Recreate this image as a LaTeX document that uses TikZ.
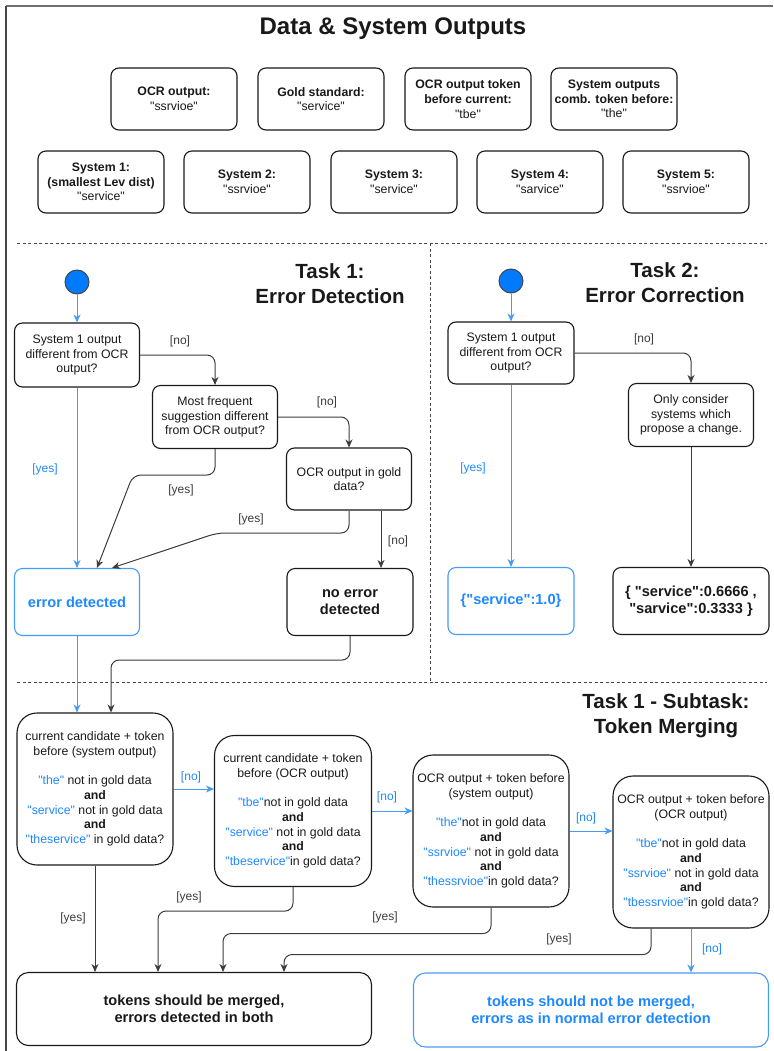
\documentclass[tikz,border=0pt]{standalone}
\usepackage{fontspec}
\setmainfont{Liberation Sans}[Ligatures=TeXOff]
\setsansfont{Liberation Sans}[Ligatures=TeXOff]
\usetikzlibrary{arrows.meta}
\definecolor{myblue}{RGB}{30,136,255}
\definecolor{bline}{RGB}{70,155,245}
\definecolor{ink}{RGB}{25,25,25}
\definecolor{startfill}{RGB}{0,122,255}
\definecolor{frame}{RGB}{110,110,110}
\newcommand{\fsz}[2]{\fontsize{#1}{#2}\selectfont}
\newcommand{\Bq}[1]{\textcolor{myblue}{#1}}
\begin{document}
\begin{tikzpicture}[x=1pt,y=-1pt,
  box/.style={draw=ink, line width=1.1pt, rounded corners=8pt, align=center, text=ink,
    font=\fsz{12.3}{14.7}, inner sep=0pt},
  dbox/.style={box, minimum width=126pt, minimum height=62pt},
  bigbox/.style={box, rounded corners=20pt, minimum width=156pt, minimum height=152pt},
  bluebox/.style={box, draw=bline, text=myblue},
  endtxt/.style={font=\fsz{14.6}{17}\bfseries},
  startdot/.style={circle, draw=ink!80, fill=startfill, line width=1pt, minimum size=24pt, inner sep=0pt},
  arrow/.style={draw=ink!85, line width=1pt, rounded corners=8pt, -{Stealth[length=8pt,width=7pt,inset=2.5pt]}},
  barrow/.style={arrow, draw=bline, fill=none},
  lbl/.style={font=\fsz{12}{14}, text=ink!85, inner sep=1pt},
  blbl/.style={lbl, text=myblue},
  sep/.style={draw=ink!80, line width=0.9pt, dash pattern=on 3pt off 2.5pt},
  ttl/.style={font=\fsz{20.5}{25}\bfseries, align=center, text=ink}
]
\useasboundingbox (0,0) rectangle (773,1051);
% frame
\draw[frame, line width=2pt] (773,6) -- (6,6);
\draw[ink!80, line width=1.3pt] (6,6) -- (6,1051);

% title and data boxes
\node[font=\fsz{24}{28}\bfseries, text=ink] (title) at (393,29) {Data \& System Outputs};
\node[dbox] (ocr) at (174,99) {\textbf{OCR output:}\\"ssrvioe"};
\node[dbox] (gold) at (321,99) {\textbf{Gold standard:}\\"service"};
\node[dbox] (ocrtok) at (468,99) {\textbf{OCR output token}\\\textbf{before current:}\\"tbe"};
\node[dbox] (systok) at (614,99) {\textbf{System outputs}\\\textbf{comb. token before:}\\"the"};
\node[dbox] (s1) at (101,182) {\textbf{System 1:}\\\textbf{(smallest Lev dist)}\\"service"};
\node[dbox] (s2) at (247,182) {\textbf{System 2:}\\"ssrvioe"};
\node[dbox] (s3) at (394,182) {\textbf{System 3:}\\"service"};
\node[dbox] (s4) at (540,182) {\textbf{System 4:}\\"sarvice"};
\node[dbox] (s5) at (686,182) {\textbf{System 5:}\\"ssrvioe"};

% separators
\draw[sep] (17,243) -- (767,243);
\draw[sep] (430,243) -- (430,682);
\draw[sep] (17,682) -- (767,682);

% Task 1
\node[ttl] (t1) at (330,284) {Task 1:\\Error Detection};
\node[startdot] (st1) at (77,282) {};
\node[dbox, minimum width=125pt, minimum height=64pt] (A1) at (77,355) {System 1 output\\different from OCR\\output?};
\node[dbox, minimum width=125pt, minimum height=63pt] (A2) at (215,417) {Most frequent\\suggestion different\\from OCR output?};
\node[dbox, minimum width=125pt, minimum height=62pt] (A3) at (349,479) {OCR output in gold\\data?};
\node[bluebox, minimum width=125pt, minimum height=67pt, endtxt] (ED) at (77,602) {error detected};
\node[dbox, minimum width=126pt, minimum height=67pt, endtxt] (NED) at (350,602) {no error\\detected};

\draw[barrow] (st1) -- (A1);
\draw[barrow] (A1.south) -- (ED.north);
\draw[arrow] (A1.east) -| (A2.north);
\draw[arrow] (A2.east) -| (A3.north);
\coordinate (a2turn) at (133,475);
\draw[arrow] (A2.south) |- (a2turn) -- ([xshift=20pt]ED.north);
\coordinate (a3turn) at (217,533);
\draw[arrow] (A3.south) |- (a3turn) -- ([xshift=35pt]ED.north);
\draw[arrow] ([xshift=32pt]A3.south) -- ([xshift=32pt]A3.south |- NED.north);

\node[lbl] (l1) at (180,341) {[no]};
\node[lbl] (l2) at (327,402) {[no]};
\node[blbl] (l3) at (45,469) {[yes]};
\node[lbl] (l4) at (181,490) {[yes]};
\node[lbl] (l5) at (251,519) {[yes]};
\node[lbl] (l6) at (398,541) {[no]};

% Task 2
\node[ttl] (t2) at (665,283) {Task 2:\\Error Correction};
\node[startdot] (st2) at (511,281) {};
\node[dbox] (B1) at (511,353) {System 1 output\\different from OCR\\output?};
\node[dbox, minimum width=125pt, minimum height=63pt] (B2) at (691,415) {Only consider\\systems which\\propose a change.};
\node[bluebox, minimum width=126pt, minimum height=67pt, endtxt] (B3) at (511,601) {\{"service":1.0\}};
\node[dbox, minimum width=156pt, minimum height=67pt, endtxt] (B4) at (691,601) {\{ "service":0.6666 ,\\"sarvice":0.3333 \}};

\draw[barrow] (st2) -- (B1);
\draw[barrow] (B1.south) -- (B3.north);
\draw[arrow] (B1.east) -| (B2.north);
\draw[arrow] (B2.south) -- (B4.north);
\node[lbl] (l7) at (644,339) {[no]};
\node[blbl] (l8) at (473,468) {[yes]};

% Subtask
\node[ttl] (t3) at (666,716) {Task 1 - Subtask:\\Token Merging};
\node[bigbox] (C1) at (95,789) {current candidate + token\\before (system output)\\[14.7pt]
  \Bq{"the"} not in gold data\\\textbf{and}\\\Bq{"service"} not in gold data\\\textbf{and}\\\Bq{"theservice"} in gold data?};
\node[bigbox, minimum width=157pt, minimum height=151pt] (C2) at (293,811) {current candidate + token\\before (OCR output)\\[14.7pt]
  \Bq{"tbe"}not in gold data\\\textbf{and}\\\Bq{"service"} not in gold data\\\textbf{and}\\\Bq{"tbeservice"}in gold data?};
\node[bigbox] (C3) at (491,831) {OCR output + token before\\(system output)\\[14.7pt]
  \Bq{"the"}not in gold data\\\textbf{and}\\\Bq{"ssrvioe"} not in gold data\\\textbf{and}\\\Bq{"thessrvioe"}in gold data?};
\node[bigbox] (C4) at (691,852) {OCR output + token before\\(OCR output)\\[14.7pt]
  \Bq{"tbe"}not in gold data\\\textbf{and}\\\Bq{"ssrvioe"} not in gold data\\\textbf{and}\\\Bq{"tbessrvioe"}in gold data?};
\node[box, rounded corners=12pt, minimum width=355pt, minimum height=73pt, endtxt] (D1) at (194,1009) {tokens should be merged,\\errors detected in both};
\node[bluebox, rounded corners=12pt, minimum width=355pt, minimum height=74pt, endtxt] (D2) at (591,1010) {tokens should not be merged,\\errors as in normal error detection};

% connectors into subtask
\draw[barrow] (ED.south) -- (ED.south |- C1.north);
\draw[arrow] (NED.south) -- ++(0,24) -| ([xshift=16pt]C1.north);

\draw[barrow] (C1.east) -- (C1.east -| C2.west);
\draw[barrow] (C2.east) -- (C2.east -| C3.west);
\draw[barrow] (C3.east) -- (C3.east -| C4.west);
\draw[arrow] (C1.south) -- (C1.south |- D1.north);
\coordinate (x158) at (158,0);
\coordinate (x223) at (223,0);
\coordinate (x284) at (284,0);
\draw[arrow] (C2.south) -- ++(0,24) -| (x158 |- D1.north);
\draw[arrow] (C3.south) -- ++(0,26) -| (x223 |- D1.north);
\draw[arrow] ([xshift=-40pt]C4.south) -- ++(0,26) -| (x284 |- D1.north);
\draw[barrow] (C4.south) -- (C4.south |- D2.north);

\node[blbl] (l9) at (191,777) {[no]};
\node[blbl] (l10) at (387,797) {[no]};
\node[blbl] (l11) at (586,818) {[no]};
\node[lbl] (l12) at (73,918) {[yes]};
\node[lbl] (l13) at (189,897) {[yes]};
\node[lbl] (l14) at (385,917) {[yes]};
\node[lbl] (l15) at (559,939) {[yes]};
\node[blbl] (l16) at (712,949) {[no]};
\end{tikzpicture}
\end{document}
